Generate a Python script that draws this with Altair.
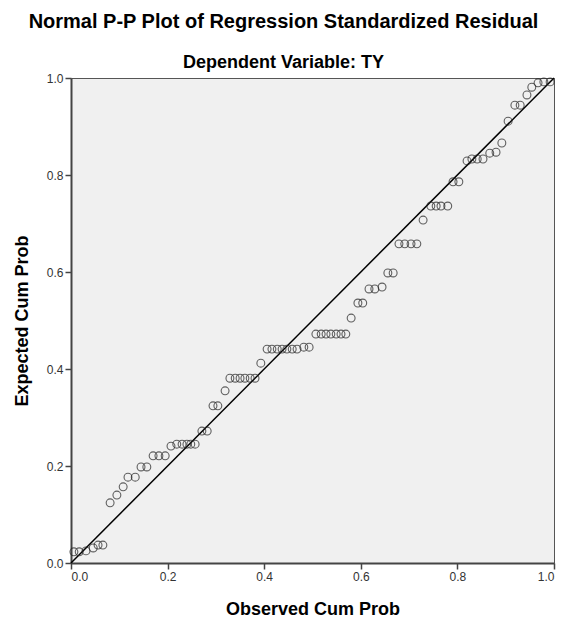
import altair as alt
import pandas as pd

observed = [0.006, 0.017, 0.031, 0.046, 0.056, 0.066, 0.081, 0.095, 0.108, 0.118,
            0.133, 0.145, 0.157, 0.170, 0.182, 0.195, 0.207, 0.219, 0.230, 0.240,
            0.248, 0.257, 0.271, 0.282, 0.294, 0.304, 0.319, 0.329, 0.340, 0.350,
            0.360, 0.371, 0.381, 0.393, 0.406, 0.416, 0.427, 0.437, 0.447, 0.458,
            0.468, 0.482, 0.493, 0.507, 0.518, 0.528, 0.538, 0.549, 0.559, 0.569,
            0.580, 0.594, 0.604, 0.617, 0.629, 0.644, 0.656, 0.667, 0.679, 0.691,
            0.704, 0.716, 0.729, 0.745, 0.756, 0.766, 0.780, 0.791, 0.803, 0.820,
            0.830, 0.841, 0.853, 0.867, 0.880, 0.892, 0.905, 0.919, 0.930, 0.944,
            0.954, 0.967, 0.979, 0.992]
expected = [0.023, 0.023, 0.025, 0.031, 0.037, 0.037, 0.124, 0.140, 0.157, 0.177,
            0.177, 0.198, 0.198, 0.221, 0.221, 0.221, 0.241, 0.245, 0.245, 0.245,
            0.245, 0.245, 0.272, 0.272, 0.324, 0.324, 0.355, 0.381, 0.381, 0.381,
            0.381, 0.381, 0.381, 0.412, 0.441, 0.441, 0.441, 0.441, 0.441, 0.441,
            0.441, 0.445, 0.445, 0.472, 0.472, 0.472, 0.472, 0.472, 0.472, 0.472,
            0.505, 0.536, 0.536, 0.565, 0.565, 0.569, 0.598, 0.598, 0.658, 0.658,
            0.658, 0.658, 0.707, 0.736, 0.736, 0.736, 0.736, 0.786, 0.786, 0.829,
            0.833, 0.833, 0.833, 0.845, 0.847, 0.866, 0.911, 0.944, 0.944, 0.965,
            0.981, 0.990, 0.992, 0.992]
ref_line = [0.0, 1.0]
tick_values = [0.0, 0.2, 0.4, 0.6, 0.8, 1.0]

pts = pd.DataFrame({"obs": observed, "exp": expected})
line_df = pd.DataFrame({"obs": ref_line, "exp": ref_line})

FONT = "Liberation Sans"

xscale = alt.Scale(domain=[0, 1], nice=False, zero=False)
yscale = alt.Scale(domain=[0, 1], nice=False, zero=False)

xaxis = alt.Axis(values=tick_values, format=".1f", title="Observed Cum Prob",
                 grid=False, tickSize=6, labelFontSize=12, labelColor="#333333",
                 titleFontSize=18, titleFontWeight="bold", titleColor="#000000",
                 titlePadding=18, labelPadding=2, domainColor="#444444",
                 domainWidth=2, tickColor="#444444", tickWidth=1.5, labelFont=FONT,
                 titleFont=FONT)
yaxis = alt.Axis(values=tick_values, format=".1f", title="Expected Cum Prob",
                 grid=False, tickSize=6, labelFontSize=12, labelColor="#333333",
                 titleFontSize=18, titleFontWeight="bold", titleColor="#000000",
                 titlePadding=15, labelPadding=2, domainColor="#444444",
                 domainWidth=2, tickColor="#444444", tickWidth=1.5, labelFont=FONT,
                 titleFont=FONT)

points = alt.Chart(pts).mark_point(shape="circle", filled=False, size=62,
                                   color="#222222", strokeWidth=1.1).encode(
    x=alt.X("obs:Q", scale=xscale, axis=xaxis),
    y=alt.Y("exp:Q", scale=yscale, axis=yaxis),
)

line = alt.Chart(line_df).mark_line(color="#000000", strokeWidth=1.5).encode(
    x=alt.X("obs:Q", scale=xscale, axis=xaxis),
    y=alt.Y("exp:Q", scale=yscale, axis=yaxis),
)

chart = alt.layer(line, points).properties(
    width=483,
    height=485,
    title=alt.TitleParams(
        text="Normal P-P Plot of Regression Standardized Residual",
        subtitle="Dependent Variable: TY",
        font=FONT, fontSize=20, fontWeight="bold", color="#000000",
        subtitleFont=FONT, subtitleFontSize=18, subtitleFontWeight="bold",
        subtitleColor="#000000", subtitlePadding=22, anchor="middle",
        dx=-29, offset=0,
    ),
    autosize=alt.AutoSizeParams(type="none"),
    padding={"left": 63, "top": 70, "right": 4, "bottom": 56},
    background="#ffffff",
).configure_view(
    fill="#F0F0F0", stroke="#555555", strokeWidth=1,
)

chart.save("out.html", embed_options={"renderer": "svg", "actions": False})
